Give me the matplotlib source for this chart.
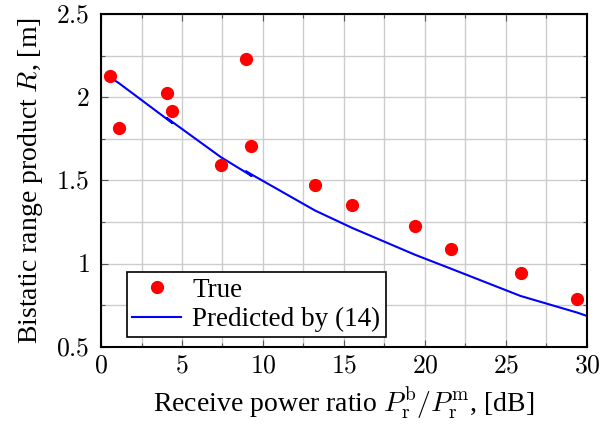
import matplotlib
matplotlib.use("Agg")
import matplotlib.pyplot as plt
from matplotlib.ticker import MultipleLocator, FuncFormatter

plt.rcParams['font.family'] = ['Liberation Serif', 'DejaVu Serif']
plt.rcParams['mathtext.fontset'] = 'cm'

# measured points
ratio_true = [0.55, 1.1, 4.07, 4.4, 8.95, 7.4, 9.26, 13.2, 15.5, 19.4, 21.6, 25.9, 29.4]
range_true = [2.13, 1.815, 2.026, 1.92, 2.23, 1.593, 1.707, 1.473, 1.353, 1.227, 1.089, 0.944, 0.788]

# prediction, in the order it was evaluated (unsorted, hence the small zigzags)
ratio_pred = [0.55, 1.1, 4.4, 4.07, 7.4, 9.3, 8.95, 13.2, 15.5, 19.4, 21.6, 25.9, 29.4, 30.0]
range_pred = [2.12, 2.085, 1.845, 1.875, 1.64, 1.527, 1.555, 1.32, 1.215, 1.053, 0.97, 0.806, 0.706, 0.686]

fig = plt.figure(figsize=(6.14, 4.32), dpi=100)
ax = fig.add_axes([0.1645, 0.197, 0.7915, 0.7706])

ax.plot(ratio_true, range_true, 'o', color='red', markersize=8.5, label='True', zorder=3)
ax.plot(ratio_pred, range_pred, '-', color='blue', linewidth=1.5, label='Predicted by (14)', zorder=2)

ax.set_xlim(0, 30)
ax.set_ylim(0.5, 2.5)
ax.xaxis.set_major_locator(MultipleLocator(5))
ax.xaxis.set_minor_locator(MultipleLocator(2.5))
ax.yaxis.set_major_locator(MultipleLocator(0.5))
ax.yaxis.set_minor_locator(MultipleLocator(0.25))
tick_fmt = FuncFormatter(lambda v, p: '$%g$' % v)
ax.xaxis.set_major_formatter(tick_fmt)
ax.yaxis.set_major_formatter(tick_fmt)

ax.grid(True, which='both', color='#cccccc', linewidth=1.0, zorder=0)
ax.set_axisbelow(True)
ax.tick_params(which='both', direction='in', top=True, right=True, labelsize=18.5,
               color='#555555', length=5, width=0.8)
ax.tick_params(axis='x', which='major', pad=6)
ax.tick_params(axis='y', which='major', pad=8)
ax.tick_params(which='minor', length=3)
for s in ax.spines.values():
    s.set_linewidth(1.5)

ax.set_xlabel(r'Receive power ratio $P_\mathrm{r}^\mathrm{b}/P_\mathrm{r}^\mathrm{m}$, [dB]', fontsize=20, labelpad=5)
ax.set_ylabel(r'Bistatic range product $R$, [m]', fontsize=20, labelpad=8)

leg = ax.legend(loc='lower left', bbox_to_anchor=(0.034, 0.0), fontsize=19.5, fancybox=False,
                framealpha=1, edgecolor='black', borderpad=0.2, handlelength=1.8,
                borderaxespad=0.35, labelspacing=0.15, handletextpad=0.4)
leg.get_frame().set_linewidth(1.2)

fig.savefig('out.png', dpi=100)
